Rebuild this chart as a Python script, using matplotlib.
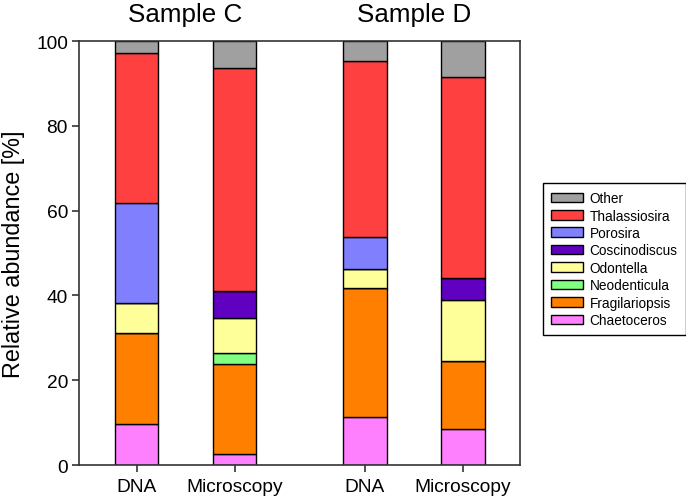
import matplotlib.pyplot as plt
import numpy as np
from matplotlib.patches import Patch

plt.rcParams["font.family"] = ["Liberation Sans", "DejaVu Sans"]

# bar order: Sample C DNA, Sample C Microscopy, Sample D DNA, Sample D Microscopy
bar_labels = ["DNA", "Microscopy", "DNA", "Microscopy"]
sample_titles = ["Sample C", "Sample D"]

taxa = ["Chaetoceros", "Fragilariopsis", "Neodenticula", "Odontella",
        "Coscinodiscus", "Porosira", "Thalassiosira", "Other"]
chaetoceros = [9.6, 2.7, 11.4, 8.5]
fragilariopsis = [21.6, 21.2, 30.3, 16.1]
neodenticula = [0.0, 2.6, 0.0, 0.0]
odontella = [7.1, 8.1, 4.6, 14.3]
coscinodiscus = [0.0, 6.4, 0.0, 5.2]
porosira = [23.4, 0.0, 7.4, 0.0]
thalassiosira = [35.5, 52.6, 41.6, 47.3]
other = [2.8, 6.4, 4.7, 8.6]

colors = ["#ff80ff", "#ff8000", "#80ff80", "#ffff99",
          "#6000c0", "#8080ff", "#ff4040", "#a0a0a0"]

series = [chaetoceros, fragilariopsis, neodenticula, odontella,
          coscinodiscus, porosira, thalassiosira, other]

x = np.array([0.0, 1.0, 2.33, 3.33])

fig = plt.figure(figsize=(6.86, 5.02), dpi=100)
ax = fig.add_axes([0.1152, 0.0717, 0.6429, 0.8446])

bottom = np.zeros(len(x))
for name, values, color in zip(taxa, series, colors):
    values = np.array(values)
    ax.bar(x, values, width=0.446, bottom=bottom, color=color,
           edgecolor="black", linewidth=1.0, label=name)
    bottom += values

ax.set_xlim(-0.587, 3.913)
ax.set_ylim(0, 100)
ax.set_yticks([0, 20, 40, 60, 80, 100])
ax.set_xticks(x)
ax.set_xticklabels(bar_labels)
ax.tick_params(axis="both", direction="out", length=5, width=1.2,
               labelsize=13.8, pad=3, color="#333333")
ax.tick_params(axis="x", pad=4)
for spine in ax.spines.values():
    spine.set_linewidth(1.2)
    spine.set_color("#333333")
ax.set_ylabel("Relative abundance [%]", fontsize=16.8)
ax.yaxis.set_label_coords(-0.122, 0.5)

for i, title in enumerate(sample_titles):
    center = (x[2 * i] + x[2 * i + 1]) / 2
    ax.text(center, 1.047, title, transform=ax.get_xaxis_transform(),
            ha="center", va="baseline", fontsize=18.7)

handles = [Patch(facecolor=c, edgecolor="black", linewidth=1.0, label=t)
           for t, c in zip(taxa, colors)][::-1]
leg = fig.legend(handles=handles, loc="upper left",
                 bbox_to_anchor=(543 / 686, 1 - 184 / 502),
                 fontsize=9.85, handlelength=2.3, handleheight=0.7,
                 labelspacing=0.25, handletextpad=0.5, borderpad=0.6,
                 borderaxespad=0, fancybox=False, framealpha=1)
leg.get_frame().set_edgecolor("black")
leg.get_frame().set_linewidth(1.0)

fig.savefig("out.png", dpi=100)
